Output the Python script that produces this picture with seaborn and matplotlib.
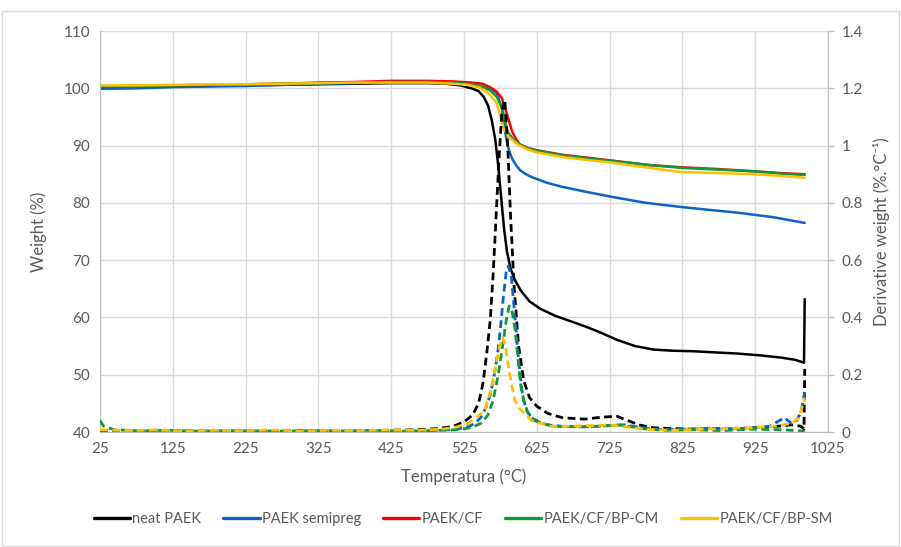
import matplotlib
matplotlib.use("Agg")
import matplotlib.pyplot as plt
import seaborn as sns
from matplotlib.patches import Rectangle
from matplotlib.ticker import FixedLocator, FixedFormatter

# ---------------- data ----------------
x_ticks = [25, 125, 225, 325, 425, 525, 625, 725, 825, 925, 1025]
y_ticks = [40, 50, 60, 70, 80, 90, 100, 110]
y2_ticks = [0, 0.2, 0.4, 0.6, 0.8, 1.0, 1.2, 1.4]
y2_labels = ["0", "0.2", "0.4", "0.6", "0.8", "1", "1.2", "1.4"]

# weight curves (left axis)
t_neat = [25, 75, 125, 175, 225, 275, 325, 375, 425, 475, 500, 520, 535, 545, 552, 558, 563, 568, 572,
          576, 580, 584, 589, 595, 603, 615, 630, 650, 670, 690, 710, 735, 760, 785, 810, 840, 870,
          900, 930, 960, 980, 992, 993]
w_neat = [100.3, 100.4, 100.4, 100.5, 100.5, 100.6, 100.7, 100.8, 100.9, 100.9, 100.8, 100.5, 100.0,
          99.5, 98.5, 97.0, 94.5, 91.0, 86.5, 81.0, 75.5, 71.5, 68.5, 66.5, 64.7, 62.8, 61.5, 60.3,
          59.4, 58.5, 57.5, 56.1, 55.0, 54.4, 54.2, 54.1, 53.9, 53.7, 53.4, 53.0, 52.6, 52.1, 63.2]

t_semi = [25, 75, 125, 175, 225, 275, 325, 375, 425, 475, 510, 535, 552, 562, 570, 577, 581, 585, 588,
          592, 597, 602, 610, 620, 639, 660, 690, 730, 775, 822, 860, 900, 950, 993]
w_semi = [99.9, 100.0, 100.2, 100.3, 100.4, 100.6, 100.8, 100.9, 101.1, 101.1, 101.0, 100.7, 100.2,
          99.8, 99.2, 96.5, 92.7, 90.0, 88.7, 87.5, 86.5, 85.7, 85.0, 84.4, 83.5, 82.8, 82.0, 81.0,
          80.0, 79.3, 78.8, 78.3, 77.5, 76.5]

t_cf = [25, 75, 125, 175, 225, 275, 325, 375, 425, 475, 510, 535, 550, 561, 570, 577, 584, 591, 597,
        602, 612, 625, 660, 700, 740, 780, 825, 875, 925, 960, 993]
w_cf = [100.3, 100.4, 100.5, 100.6, 100.7, 100.8, 101.0, 101.1, 101.3, 101.3, 101.2, 101.0, 100.8,
        100.2, 99.4, 98.3, 95.5, 92.5, 91.0, 90.2, 89.6, 89.2, 88.4, 87.8, 87.2, 86.6, 86.2, 85.9,
        85.5, 85.2, 85.0]

t_cm = [25, 75, 125, 175, 225, 275, 325, 375, 425, 475, 510, 535, 550, 561, 570, 577, 585, 592, 598,
        605, 615, 630, 660, 700, 730, 780, 825, 875, 925, 960, 993]
w_cm = [100.4, 100.4, 100.5, 100.6, 100.7, 100.8, 100.9, 101.0, 101.1, 101.1, 101.0, 100.7, 100.3,
        99.6, 98.5, 96.7, 92.4, 91.2, 90.5, 89.9, 89.4, 89.0, 88.3, 87.7, 87.3, 86.6, 86.1, 85.8,
        85.5, 85.1, 84.9]

t_sm = [25, 75, 125, 175, 225, 275, 325, 375, 425, 475, 510, 530, 547, 558, 570, 579, 586, 591, 600,
        611, 625, 660, 700, 730, 780, 822, 875, 925, 960, 993]
w_sm = [100.5, 100.5, 100.6, 100.7, 100.7, 100.8, 100.9, 101.0, 101.0, 101.0, 100.8, 100.6, 100.1,
        99.2, 97.4, 93.2, 91.6, 91.0, 90.1, 89.4, 88.8, 88.0, 87.4, 87.0, 86.1, 85.4, 85.2, 85.0,
        84.7, 84.4]

# derivative curves (right axis)
td_neat = [25, 60, 100, 140, 180, 220, 260, 300, 340, 380, 420, 460, 490, 510, 525, 537, 545, 551, 556,
           561, 565, 569, 573, 577, 581, 585, 589, 594, 600, 607, 615, 625, 640, 660, 690, 715, 735,
           750, 765, 785, 810, 840, 870, 900, 930, 955, 975, 988, 992, 993]
d_neat = [0.005, 0.003, 0.006, 0.004, 0.003, 0.005, 0.004, 0.006, 0.005, 0.004, 0.006, 0.008, 0.012,
          0.02, 0.035, 0.06, 0.10, 0.17, 0.27, 0.39, 0.55, 0.75, 0.95, 1.12, 1.16, 1.0, 0.75, 0.50,
          0.30, 0.18, 0.12, 0.09, 0.065, 0.05, 0.045, 0.052, 0.055, 0.04, 0.025, 0.015, 0.012, 0.01,
          0.012, 0.01, 0.015, 0.02, 0.025, 0.02, 0.01, 0.22]

td_semi = [25, 55, 90, 130, 170, 210, 250, 290, 330, 370, 410, 450, 490, 515, 530, 540, 548, 555, 561,
           566, 571, 575, 579, 583, 586, 590, 594, 598, 602, 606, 611, 618, 628, 640, 660, 690, 720,
           745, 770, 800, 830, 860, 890, 920, 945, 965, 975, 982, 988, 993]
d_semi = [0.004, 0.006, 0.003, 0.005, 0.004, 0.003, 0.005, 0.004, 0.006, 0.003, 0.005, 0.004, 0.006,
          0.01, 0.018, 0.03, 0.05, 0.085, 0.13, 0.19, 0.27, 0.36, 0.47, 0.56, 0.58, 0.54, 0.43, 0.31,
          0.20, 0.12, 0.075, 0.05, 0.035, 0.025, 0.02, 0.018, 0.022, 0.025, 0.015, 0.008, 0.01, 0.012,
          0.01, 0.015, 0.02, 0.05, 0.03, 0.04, 0.07, 0.14]

td_cm = [25, 30, 45, 80, 120, 160, 200, 240, 280, 320, 360, 400, 440, 480, 515, 535, 548, 558, 565,
         572, 578, 583, 587, 591, 595, 599, 603, 608, 614, 622, 632, 650, 680, 710, 740, 770, 800,
         840, 880, 920, 960, 985, 993]
d_cm = [0.04, 0.02, 0.008, 0.004, 0.006, 0.003, 0.005, 0.004, 0.003, 0.005, 0.004, 0.006, 0.003,
        0.005, 0.008, 0.015, 0.03, 0.06, 0.11, 0.20, 0.30, 0.39, 0.44, 0.42, 0.36, 0.26, 0.16, 0.10,
        0.06, 0.04, 0.03, 0.02, 0.018, 0.02, 0.025, 0.012, 0.006, 0.008, 0.005, 0.01, 0.008, 0.005,
        0.0]

td_sm = [25, 60, 100, 140, 180, 220, 260, 300, 340, 380, 420, 460, 495, 515, 530, 542, 554, 560, 565,
         570, 574, 578, 582, 586, 590, 595, 602, 609, 618, 630, 645, 665, 695, 725, 755, 785, 815,
         850, 885, 920, 950, 975, 985, 993]
d_sm = [0.008, 0.005, 0.007, 0.004, 0.006, 0.005, 0.007, 0.004, 0.006, 0.005, 0.007, 0.006, 0.01,
        0.018, 0.03, 0.05, 0.077, 0.13, 0.18, 0.25, 0.30, 0.33, 0.30, 0.23, 0.17, 0.11, 0.08, 0.062,
        0.04, 0.03, 0.02, 0.02, 0.022, 0.025, 0.015, 0.008, 0.006, 0.01, 0.012, 0.015, 0.02, 0.03,
        0.05, 0.12]

names = ["neat PAEK", "PAEK semipreg", "PAEK/CF", "PAEK/CF/BP-CM", "PAEK/CF/BP-SM"]
colors = ["#000000", "#0B63C4", "#FF0000", "#0E9A3C", "#FFC000"]

# ---------------- figure ----------------
sns.set_style("white")
plt.rcParams["font.family"] = ["Lato", "DejaVu Sans"]
txt = "#595959"
grid_c = "#D9D9D9"

fig = plt.figure(figsize=(9.01, 5.47), dpi=100)
ax = fig.add_axes([0.111, 0.2102, 0.808, 0.7331])
ax2 = ax.twinx()

weights = [(t_neat, w_neat), (t_semi, w_semi), (t_cf, w_cf), (t_cm, w_cm), (t_sm, w_sm)]
for (t, w), n, c in zip(weights, names, colors):
    sns.lineplot(x=t, y=w, ax=ax, color=c, linewidth=1.8, label=n, estimator=None, sort=False)

derivs = [(td_neat, d_neat, colors[0]), (td_semi, d_semi, colors[1]),
          (td_cm, d_cm, colors[3]), (td_sm, d_sm, colors[4])]
for t, d, c in derivs:
    sns.lineplot(x=t, y=d, ax=ax2, color=c, linewidth=2.0, linestyle=(0, (2.8, 1.6)),
                 estimator=None, sort=False, legend=False)

ax.set_xlim(25, 1025)
ax.set_ylim(40, 110)
ax2.set_ylim(0, 1.4)
ax.xaxis.set_major_locator(FixedLocator(x_ticks))
ax.set_xticklabels([str(v) for v in x_ticks])
ax.yaxis.set_major_locator(FixedLocator(y_ticks))
ax.set_yticklabels([str(v) for v in y_ticks])
ax2.yaxis.set_major_locator(FixedLocator(y2_ticks))
ax2.yaxis.set_major_formatter(FixedFormatter(y2_labels))

ax.grid(True, color=grid_c, linewidth=1.0)
ax.set_axisbelow(True)
for a in (ax, ax2):
    for s in a.spines.values():
        s.set_visible(False)
ax.spines["bottom"].set_visible(True)
ax.spines["bottom"].set_color("#BFBFBF")
ax.spines["left"].set_visible(True)
ax.spines["left"].set_color("#BFBFBF")
ax2.spines["right"].set_visible(True)
ax2.spines["right"].set_color("#BFBFBF")

ax.tick_params(axis="both", length=0, labelsize=11, labelcolor=txt, pad=7)
ax2.tick_params(axis="y", length=4, color="#BFBFBF", width=1, labelsize=11, labelcolor=txt, pad=6)

ax.set_xlabel("Temperatura (°C)", fontsize=12, color=txt, labelpad=9)
ax.set_ylabel("Weight (%)", fontsize=12, color=txt, labelpad=12)
ax2.set_ylabel("Derivative weight (%.°C⁻¹)", fontsize=12, color=txt, labelpad=7)

handles, labels = ax.get_legend_handles_labels()
if ax.get_legend():
    ax.get_legend().remove()
leg = fig.legend(handles, labels, loc="center", bbox_to_anchor=(0.514, 0.051), ncol=5,
                 frameon=False, fontsize=10.5, handlelength=2.5, columnspacing=1.5,
                 handletextpad=0.15, labelcolor=txt)
for l in leg.get_lines():
    l.set_linewidth(2.4)

fig.patches.append(Rectangle((0.002, 0.002), 0.996, 0.978, transform=fig.transFigure,
                             fill=False, edgecolor=grid_c, linewidth=1.0))

fig.savefig("out.png", dpi=100)
